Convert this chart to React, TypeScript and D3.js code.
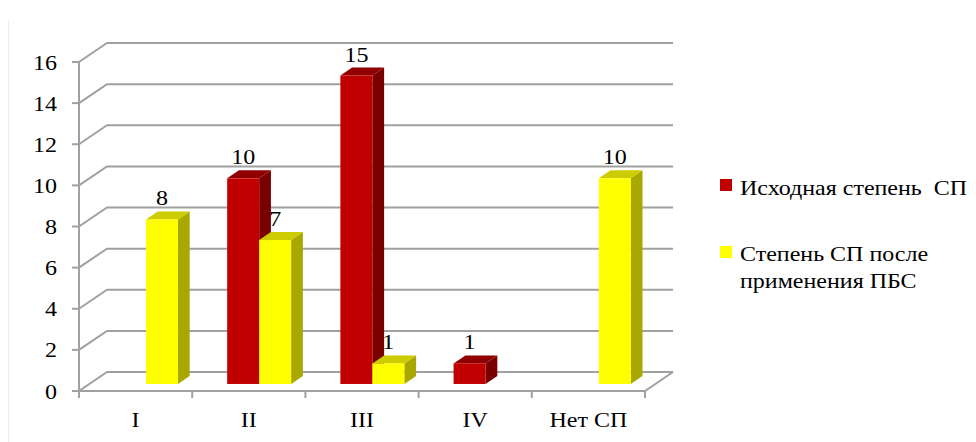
import * as d3 from 'd3';
import React from 'react';

const categories = ['I', 'II', 'III', 'IV', 'Нет СП'];
const seriesNames = ['Исходная степень  СП', 'Степень СП после', 'применения ПБС'];
const initialDegree = [0, 10, 15, 1, 0];
const afterPBS = [8, 7, 1, 0, 10];
const yTicks = [0, 2, 4, 6, 8, 10, 12, 14, 16];

const W = 976;
const H = 442;
const left = 79;
const right = 645;
const floorY = 391;
const topY = 62;
// depth of the 3d box
const depthX = 28;
const depthY = -19;
// bars sit between these fractions of the depth
const barNear = 0.37;
const barFar = 0.79;

const colors = [
    { front: '#C00000', side: '#7A0000', top: '#900000' },
    { front: '#FFFF00', side: '#A8A800', top: '#CCCC00' },
];

// the original picture is stretched a bit horizontally
const stretch = 1.2;
const txt = { fontFamily: 'Liberation Serif, Times New Roman, serif', fontSize: '20px', whiteSpace: 'pre' };

function T({ x, y, anchor = 'start', children }) {
    return (
        <text transform={`translate(${x},${y}) scale(${stretch},1)`} textAnchor={anchor}
            style={txt} fill="#000">{children}</text>
    );
}

function App() {
    const x = d3.scaleBand().domain(categories).range([left, right]).padding(0);
    const inner = d3.scaleBand().domain(['0', '1']).range([0, x.bandwidth()])
        .paddingInner(0).paddingOuter(0.77);
    const y = d3.scaleLinear().domain([0, 16]).range([floorY, topY]);

    const offX = depthX * barNear;
    const offY = depthY * barNear;
    const sX = depthX * (barFar - barNear);
    const sY = depthY * (barFar - barNear);

    const series = [initialDegree, afterPBS];
    const bars = [];
    categories.forEach((c, i) => {
        series.forEach((vals, s) => {
            const v = vals[i];
            if (!v) return;
            const x0 = x(c) + inner(String(s)) + offX;
            const x1 = x0 + inner.bandwidth();
            const yb = y(0) + offY;
            const yt = y(v) + offY;
            bars.push({ key: c + s, s, v, x0, x1, yb, yt });
        });
    });

    const gridColor = '#A0A0A0';

    return (
        <svg width={W} height={H} style={{ position: 'absolute', left: 0, top: 0, background: '#fff' }}>
            <line x1={8.5} y1={20} x2={8.5} y2={H} stroke="#EEEEEE" strokeWidth={1} />
            {/* back wall gridlines and side wall */}
            {yTicks.map((t) => (
                <polyline key={t}
                    points={`${left},${y(t)} ${left + depthX},${y(t) + depthY} ${right + depthX},${y(t) + depthY}`}
                    fill="none" stroke={gridColor} strokeWidth={2} />
            ))}
            {/* floor */}
            <polyline points={`${left},${floorY} ${right},${floorY} ${right + depthX},${floorY + depthY}`}
                fill="none" stroke={gridColor} strokeWidth={2} />
            {/* y axis */}
            <line x1={left} y1={topY} x2={left} y2={floorY + 1} stroke={gridColor} strokeWidth={2} />
            {yTicks.map((t) => (
                <g key={'yt' + t}>
                    <line x1={left - 7} x2={left} y1={y(t)} y2={y(t)} stroke={gridColor} strokeWidth={2} />
                    <T x={57} y={y(t) + 7.5} anchor="end">{t}</T>
                </g>
            ))}
            {/* category ticks */}
            {categories.map((c) => (
                <line key={'ct' + c} x1={x(c)} x2={x(c)} y1={floorY} y2={floorY + 7}
                    stroke={gridColor} strokeWidth={2} />
            ))}
            <line x1={right} x2={right} y1={floorY} y2={floorY + 7} stroke={gridColor} strokeWidth={2} />
            {categories.map((c) => (
                <T key={'cl' + c} x={x(c) + x.bandwidth() / 2} y={427} anchor="middle">{c}</T>
            ))}
            {/* bars */}
            {bars.map((b) => {
                const col = colors[b.s];
                return (
                    <g key={b.key}>
                        <polygon points={`${b.x1},${b.yb} ${b.x1 + sX},${b.yb + sY} ${b.x1 + sX},${b.yt + sY} ${b.x1},${b.yt}`}
                            fill={col.side} />
                        <polygon points={`${b.x0},${b.yt} ${b.x0 + sX},${b.yt + sY} ${b.x1 + sX},${b.yt + sY} ${b.x1},${b.yt}`}
                            fill={col.top} />
                        <rect x={b.x0} y={b.yt} width={b.x1 - b.x0} height={b.yb - b.yt} fill={col.front} />
                    </g>
                );
            })}
            {bars.map((b) => (
                <T key={'l' + b.key} x={(b.x0 + b.x1) / 2} y={b.yt + sY - 6} anchor="middle">{b.v}</T>
            ))}
            {/* legend */}
            <rect x={720} y={179} width={12} height={12} fill={colors[0].front} />
            <T x={740} y={195}>{seriesNames[0]}</T>
            <rect x={720} y={246} width={12} height={12} fill={colors[1].front} />
            <T x={740} y={261}>{seriesNames[1]}</T>
            <T x={740} y={288}>{seriesNames[2]}</T>
        </svg>
    );
}

export default App;
